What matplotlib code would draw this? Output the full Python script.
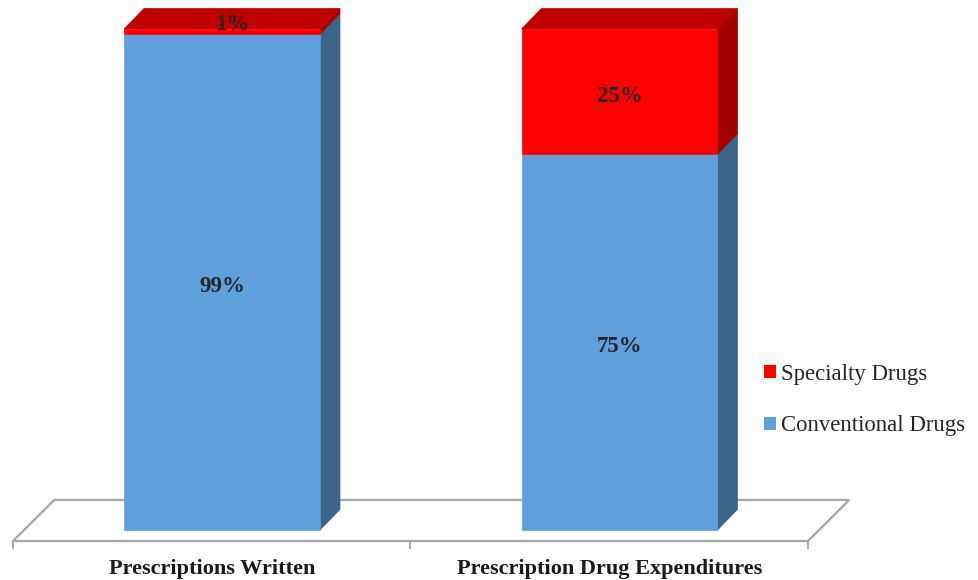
import matplotlib
matplotlib.use("Agg")
import matplotlib.pyplot as plt
from matplotlib.patches import Polygon, Patch

categories = ["Prescriptions Written", "Prescription Drug Expenditures"]
conventional = [99, 75]
specialty = [1, 25]
series_names = ["Specialty Drugs", "Conventional Drugs"]

front_colors = {"conv": "#5F9FDB", "spec": "#FF0000"}
side_colors = {"conv": "#3A6488", "spec": "#A30000"}
top_colors = {"conv": "#4F86B8", "spec": "#C00000"}

plt.rcParams["font.family"] = ["Liberation Serif", "DejaVu Serif"]

fig = plt.figure(figsize=(9.79, 5.80), dpi=100)
ax = fig.add_axes([0, 0, 1, 1])
ax.set_xlim(-0.5585, 1.9044)
ax.set_ylim(-9.98, 105.79)
ax.axis("off")

# 3d depth (in data units)
bw = 0.493
ddx, ddy = 0.0503, 4.1
# floor
f_front_y, f_back_y = -2.2, 6.0
f_left, f_right = -0.526, 1.474
f_dx = 0.104
floor = Polygon([(f_left, f_front_y), (f_right, f_front_y),
                 (f_right + f_dx, f_back_y), (f_left + f_dx, f_back_y)],
                closed=True, facecolor="white", edgecolor="#A6A6A6", lw=1.6, zorder=1)
ax.add_patch(floor)
for tx in [f_left, (f_left + f_right) / 2, f_right]:
    ax.plot([tx, tx], [f_front_y, f_front_y - 1.4], color="#A6A6A6", lw=1.4, zorder=1)


def box(x0, y0, y1, kind, top=True):
    x1 = x0 + bw
    front = [(x0, y0), (x1, y0), (x1, y1), (x0, y1)]
    side = [(x1, y0), (x1 + ddx, y0 + ddy), (x1 + ddx, y1 + ddy), (x1, y1)]
    lid = [(x0, y1), (x1, y1), (x1 + ddx, y1 + ddy), (x0 + ddx, y1 + ddy)]
    ax.add_patch(Polygon(side, facecolor=side_colors[kind], edgecolor=side_colors[kind], lw=0.5, zorder=2))
    if top:
        ax.add_patch(Polygon(lid, facecolor=top_colors[kind], edgecolor=top_colors[kind], lw=0.5, zorder=2))
    ax.add_patch(Polygon(front, facecolor=front_colors[kind], edgecolor=front_colors[kind], lw=0.5, zorder=3))


for i, cat in enumerate(categories):
    x0 = i - bw / 2
    box(x0, 0, conventional[i], "conv", top=False)
    box(x0, conventional[i], conventional[i] + specialty[i], "spec")
    ax.text(i, conventional[i] / 2 - 0.8, f"{conventional[i]}%", ha="center", va="center",
            fontsize=16.5, fontweight="bold", color="#262626", zorder=5)
    if specialty[i] < 5:
        ax.text(i + ddx / 2, 100 + 0.9, f"{specialty[i]}%", ha="center", va="center",
                fontsize=16.5, fontweight="bold", color="#262626", zorder=5)
    else:
        ax.text(i, conventional[i] + specialty[i] / 2 - 1.0, f"{specialty[i]}%", ha="center", va="center",
                fontsize=16.5, fontweight="bold", color="#262626", zorder=5)
    ax.text(i - 0.025, -7.8, cat, ha="center", va="center", fontsize=16,
            fontweight="bold", color="#1a1a1a")

handles = [Patch(facecolor=front_colors["spec"]), Patch(facecolor=front_colors["conv"])]
fig.legend(handles, series_names, loc="center left", bbox_to_anchor=(0.769, 0.31),
           frameon=False, fontsize=16.4, handlelength=0.5, handleheight=0.5,
           handletextpad=0.25, labelspacing=1.33, borderpad=0, labelcolor="#262626")

fig.savefig("out.png", dpi=100)
